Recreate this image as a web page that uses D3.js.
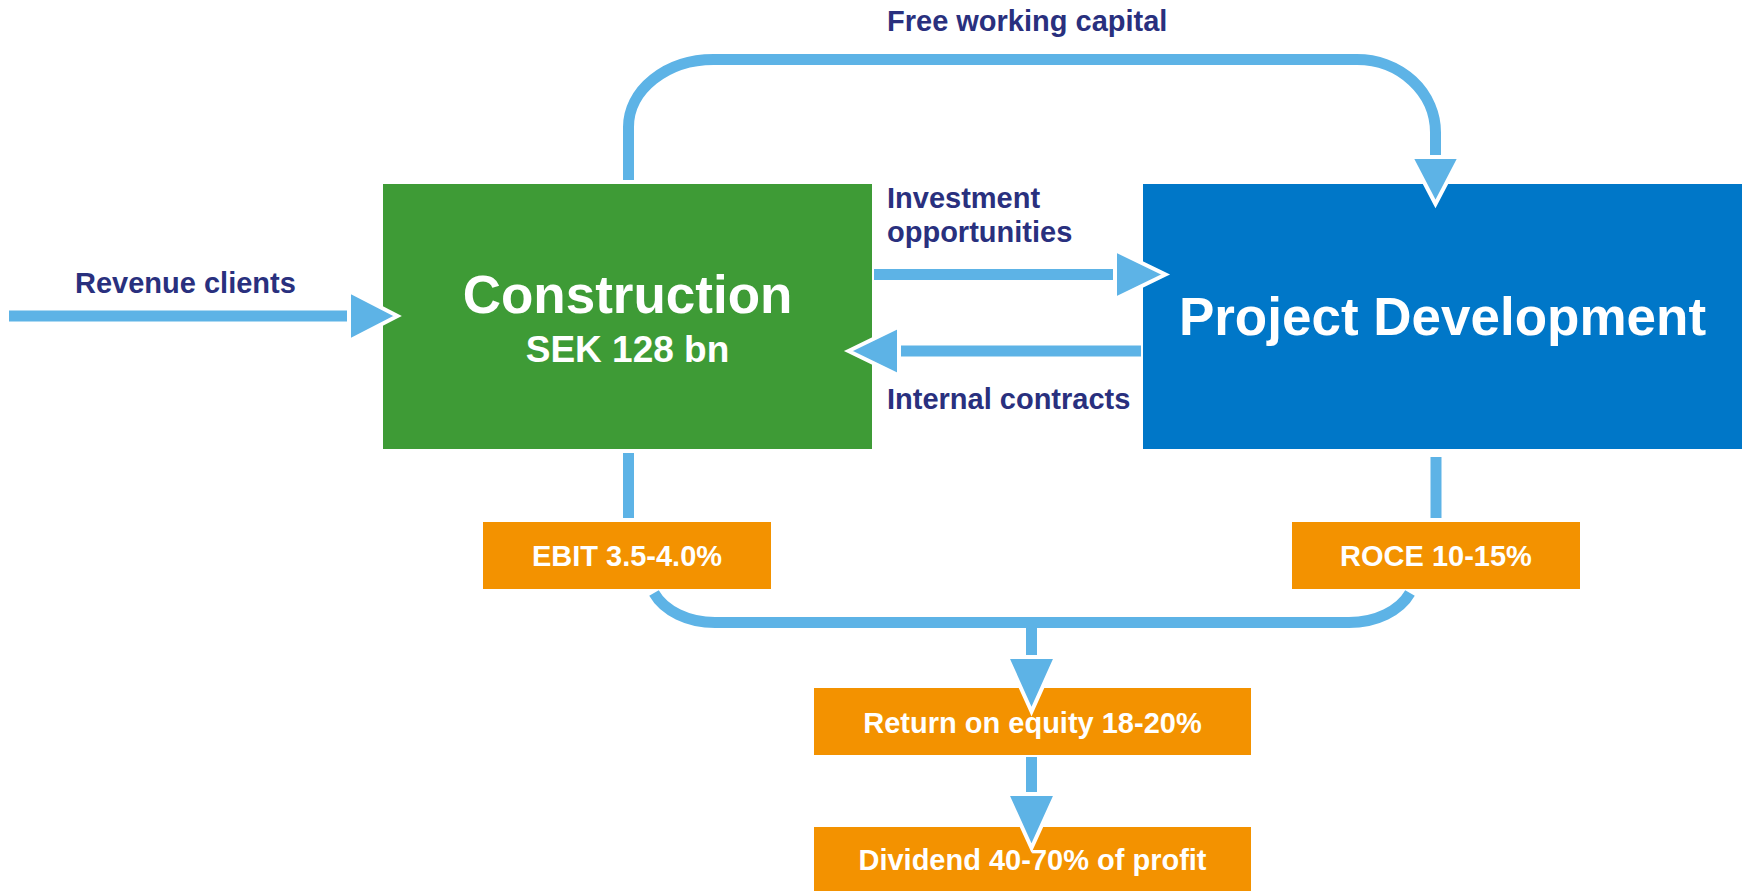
<!DOCTYPE html>
<html>
<head>
<meta charset="utf-8">
<script src="https://cdn.jsdelivr.net/npm/d3@7"></script>
<style>
  html, body { margin: 0; padding: 0; background: #ffffff; }
  svg { display: block; }
  text { font-family: "Liberation Sans", Arial, sans-serif; font-weight: bold; }
</style>
</head>
<body>
<script>
// ---- Data (labels of the flow diagram) ----
const boxIds      = ["construction", "project", "ebit", "roce", "roe", "dividend"];
const boxTitles   = ["Construction", "Project Development", "EBIT 3.5-4.0%", "ROCE 10-15%", "Return on equity 18-20%", "Dividend 40-70% of profit"];
const boxSubtitles = ["SEK 128 bn", "", "", "", "", ""];
const boxKinds    = ["segment", "segment", "target", "target", "target", "target"];
const flowIds     = ["revenue", "capital", "investment", "internal"];
const flowLabels  = [["Revenue clients"], ["Free working capital"], ["Investment", "opportunities"], ["Internal contracts"]];

// ---- Layout (positions & styles, kept apart from data) ----
const W = 1742, H = 891;
const colors = { construction: "#3e9b36", project: "#0077c8", target: "#f39200", arrow: "#5db3e6", label: "#29307e" };
const boxRect = {
  construction: [383, 184, 872, 449],
  project:      [1143, 184, 1742, 449],
  ebit:         [483, 522, 771, 589],
  roce:         [1292, 522, 1580, 589],
  roe:          [814, 688, 1251, 755],
  dividend:     [814, 827, 1251, 895]
};
const titleStyle = {
  construction: { size: 53, base: 313 },
  project:      { size: 53, base: 335 },
  ebit:         { size: 29, base: 566 },
  roce:         { size: 29, base: 566 },
  roe:          { size: 29, base: 733 },
  dividend:     { size: 29, base: 870 }
};
const subStyle = { construction: { size: 37, base: 362 } };
const flowText = {
  revenue:    { x: 75,  base: 293, lh: 34 },
  capital:    { x: 887, base: 31,  lh: 34 },
  investment: { x: 887, base: 208, lh: 34 },
  internal:   { x: 887, base: 409, lh: 34 }
};

const svg = d3.select("body").append("svg").attr("width", W).attr("height", H);
svg.append("rect").attr("width", W).attr("height", H).attr("fill", "#fff");

// ---- connector lines ----
const linePaths = [
  "M9,316 H347",                                                     // revenue clients
  "M628.5,180 V127 A85 67.5 0 0 1 713.5,59.5 H1357 A78.5 73 0 0 1 1435.5,132.5 V155", // free working capital
  "M874,274.5 H1113",                                                // investment opportunities
  "M901,351 H1141",                                                  // internal contracts
  "M628.5,453 V518",                                                 // construction -> EBIT
  "M1436,457 V518",                                                  // project -> ROCE
  "M654,593 A66 47.5 0 0 0 715,622.5 H1349 A66 47.5 0 0 0 1410,593", // merge
  "M1031.5,622 V655",                                                // merge -> ROE
  "M1031.5,757 V792"                                                 // ROE -> dividend
];
svg.append("g").selectAll("path").data(linePaths).join("path")
  .attr("d", d => d)
  .attr("fill", "none")
  .attr("stroke", colors.arrow)
  .attr("stroke-width", 11)
  .attr("stroke-linecap", "butt");

// ---- boxes ----
const boxes = boxIds.map((id, i) => ({ id, title: boxTitles[i], sub: boxSubtitles[i], kind: boxKinds[i] }));
const bg = svg.append("g").selectAll("g").data(boxes).join("g");
bg.append("rect")
  .attr("x", d => boxRect[d.id][0])
  .attr("y", d => boxRect[d.id][1])
  .attr("width", d => boxRect[d.id][2] - boxRect[d.id][0])
  .attr("height", d => boxRect[d.id][3] - boxRect[d.id][1])
  .attr("fill", d => d.kind === "target" ? colors.target : colors[d.id]);

// ---- arrow heads (tip point, direction, length, half width) ----
const heads = [
  { tip: [397.5, 316],   dir: [1, 0],  len: 48.5, hw: 25 },
  { tip: [1435.5, 204],  dir: [0, 1],  len: 47,   hw: 24.5 },
  { tip: [1165.5, 274.5], dir: [1, 0], len: 50.5, hw: 24.5 },
  { tip: [848.5, 351],   dir: [-1, 0], len: 50.5, hw: 24.5 },
  { tip: [1031.5, 711.5], dir: [0, 1], len: 54.5, hw: 24.5 },
  { tip: [1031.5, 848],  dir: [0, 1],  len: 54,   hw: 24.5 }
];
svg.append("g").selectAll("path").data(heads).join("path")
  .attr("d", h => {
    const [tx, ty] = h.tip, [dx, dy] = h.dir;
    const bx = tx - dx * h.len, by = ty - dy * h.len;
    const px = -dy, py = dx;
    return d3.line()([[tx, ty], [bx + px * h.hw, by + py * h.hw], [bx - px * h.hw, by - py * h.hw]]) + "Z";
  })
  .attr("fill", colors.arrow)
  .attr("stroke", "#fff")
  .attr("stroke-width", 4)
  .attr("stroke-linejoin", "miter")
  .attr("stroke-miterlimit", 10);

// ---- box texts ----
const cx = id => (boxRect[id][0] + Math.min(boxRect[id][2], W)) / 2;
bg.append("text")
  .attr("x", d => cx(d.id))
  .attr("y", d => titleStyle[d.id].base)
  .attr("text-anchor", "middle")
  .attr("font-size", d => titleStyle[d.id].size)
  .attr("fill", "#fff")
  .text(d => d.title);
bg.filter(d => d.sub).append("text")
  .attr("x", d => cx(d.id))
  .attr("y", d => subStyle[d.id].base)
  .attr("text-anchor", "middle")
  .attr("font-size", d => subStyle[d.id].size)
  .attr("fill", "#fff")
  .text(d => d.sub);

// ---- flow labels ----
const flows = flowIds.map((id, i) => ({ id, lines: flowLabels[i] }));
svg.append("g").selectAll("text").data(flows).join("text")
  .attr("x", d => flowText[d.id].x)
  .attr("y", d => flowText[d.id].base)
  .attr("font-size", 29)
  .attr("fill", colors.label)
  .selectAll("tspan").data(d => d.lines.map((l, k) => ({ l, k, id: d.id }))).join("tspan")
  .attr("x", d => flowText[d.id].x)
  .attr("dy", d => d.k === 0 ? 0 : flowText[d.id].lh)
  .text(d => d.l);
</script>
</body>
</html>
